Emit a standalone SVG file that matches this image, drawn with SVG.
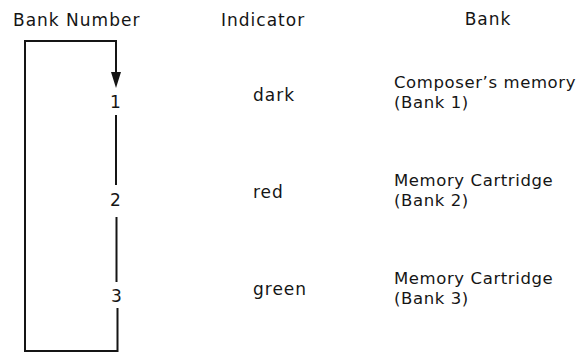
<svg xmlns="http://www.w3.org/2000/svg" width="587" height="353" viewBox="0 0 587 353">
<style>
text{font-family:"DejaVu Sans","Liberation Sans",sans-serif;font-size:17px;letter-spacing:1px;fill:#151515}
.b{font-size:16.5px;letter-spacing:0.6px}
.ln{fill:none;stroke:#151515;stroke-width:2}
</style>
<rect width="587" height="353" fill="#fff"/>
<g id="headers">
<text x="13" y="26">Bank Number</text>
<text x="221" y="26">Indicator</text>
<text x="488" y="25" text-anchor="middle">Bank</text>
</g>
<g id="connectors">
<path class="ln" d="M116,73 L116,41 L25,41 L25,351 L117.5,351 L117.5,308"/>
<path d="M111,72 L121,72 L116,88 Z" fill="#151515"/>
<line class="ln" x1="116" y1="115" x2="116" y2="185"/>
<line class="ln" x1="116.5" y1="217" x2="116.5" y2="282"/>
</g>
<g id="bank1">
<text x="116" y="108" text-anchor="middle">1</text>
<text x="253" y="101">dark</text>
<text class="b" x="394" y="88">Composer’s memory</text>
<text class="b" x="394" y="108">(Bank 1)</text>
</g>
<g id="bank2">
<text x="116" y="206" text-anchor="middle">2</text>
<text x="253" y="198">red</text>
<text class="b" x="394" y="186">Memory Cartridge</text>
<text class="b" x="394" y="206">(Bank 2)</text>
</g>
<g id="bank3">
<text x="117" y="302" text-anchor="middle">3</text>
<text x="253" y="295">green</text>
<text class="b" x="394" y="284">Memory Cartridge</text>
<text class="b" x="394" y="304">(Bank 3)</text>
</g>
</svg>
